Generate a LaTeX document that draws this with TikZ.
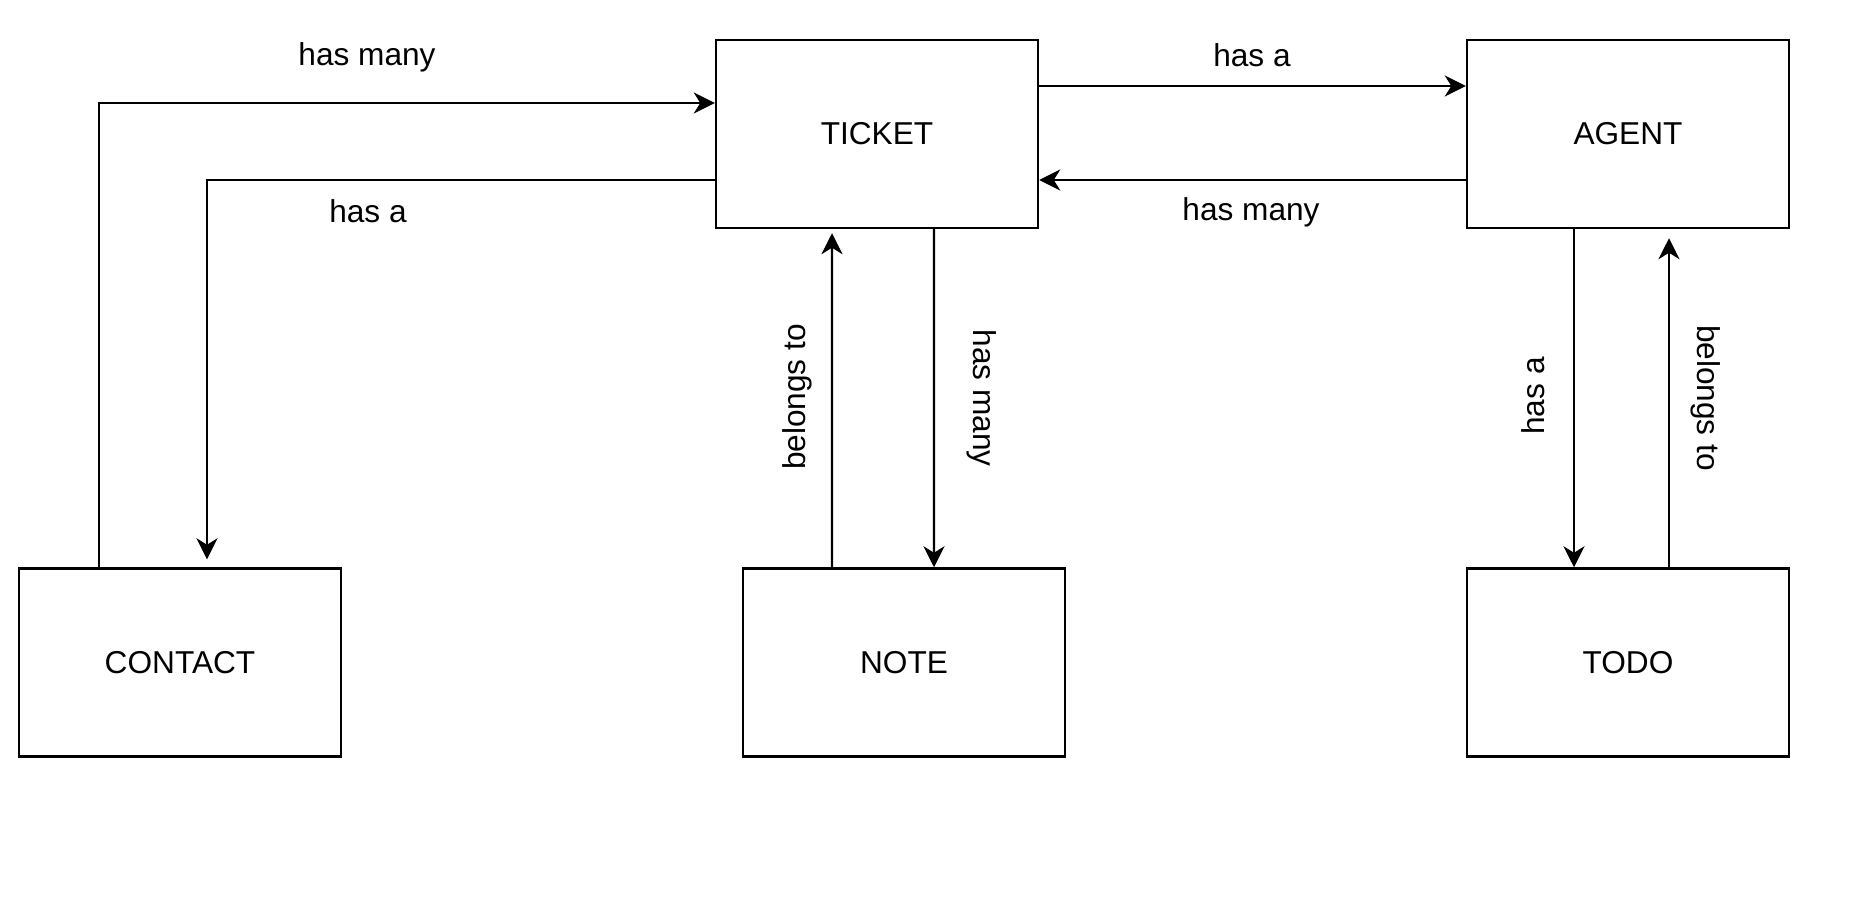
\documentclass[tikz,border=0pt]{standalone}
\usepackage{fontspec}
\setmainfont{Liberation Sans}
\usepackage{tikz}
\usetikzlibrary{arrows.meta}

\begin{document}
\begin{tikzpicture}[
        entity/.style={draw, line width=1.4pt, minimum width=6.44cm, minimum height=3.76cm, inner sep=0pt},
        rel/.style={line width=1.3pt, -{Stealth[length=0.42cm, width=0.42cm, inset=0.13cm]}},
        lbl/.style={inner sep=0pt},
        font=\fontsize{18}{22}\selectfont]
        \useasboundingbox (0,0) rectangle (37.12,-17.96);
        % Entities
        \node[entity] (ticket)  at (17.54,-2.68)  {TICKET};
        \node[entity] (agent)   at (32.56,-2.68)  {AGENT};
        \node[entity] (contact) at (3.60,-13.25)  {CONTACT};
        \node[entity] (note)    at (18.08,-13.25) {NOTE};
        \node[entity] (todo)    at (32.56,-13.25) {TODO};

        % Contact <-> Ticket
        \draw[rel] ([xshift=-1.62cm]contact.north) |- ([yshift=0.62cm]ticket.west);
        \node[lbl] (hasmanyct) at (7.34,-1.14) {has many};
        \draw[rel, shorten >=0.16cm] ([yshift=-0.92cm]ticket.west) -| ([xshift=0.54cm]contact.north);
        \node[lbl] (hasatc) at (7.36,-4.22) {has a};

        % Ticket <-> Agent
        \draw[rel] ([yshift=0.96cm]ticket.east) -- ([yshift=0.96cm]agent.west);
        \node[lbl] (hasata) at (25.04,-1.10) {has a};
        \draw[rel] ([yshift=-0.92cm]agent.west) -- ([yshift=-0.92cm]ticket.east);
        \node[lbl] (hasmanyat) at (25.02,-4.24) {has many};

        % Ticket <-> Note
        \draw[rel, shorten >=0.08cm] ([xshift=-1.44cm]note.north) -- ([xshift=-0.90cm]ticket.south);
        \node[lbl, rotate=90] (belongsnt) at (15.94,-7.94) {belongs to};
        \draw[rel] ([xshift=1.14cm]ticket.south) -- ([xshift=0.60cm]note.north);
        \node[lbl, rotate=-90] (hasmanytn) at (19.64,-7.96) {has many};

        % Agent <-> Todo
        \draw[rel] ([xshift=-1.08cm]agent.south) -- ([xshift=-1.08cm]todo.north);
        \node[lbl, rotate=90] (hasaat) at (30.66,-7.92) {has a};
        \draw[rel, shorten >=0.18cm] ([xshift=0.82cm]todo.north) -- ([xshift=0.82cm]agent.south);
        \node[lbl, rotate=-90] (belongsta) at (34.12,-7.96) {belongs to};
\end{tikzpicture}
\end{document}
